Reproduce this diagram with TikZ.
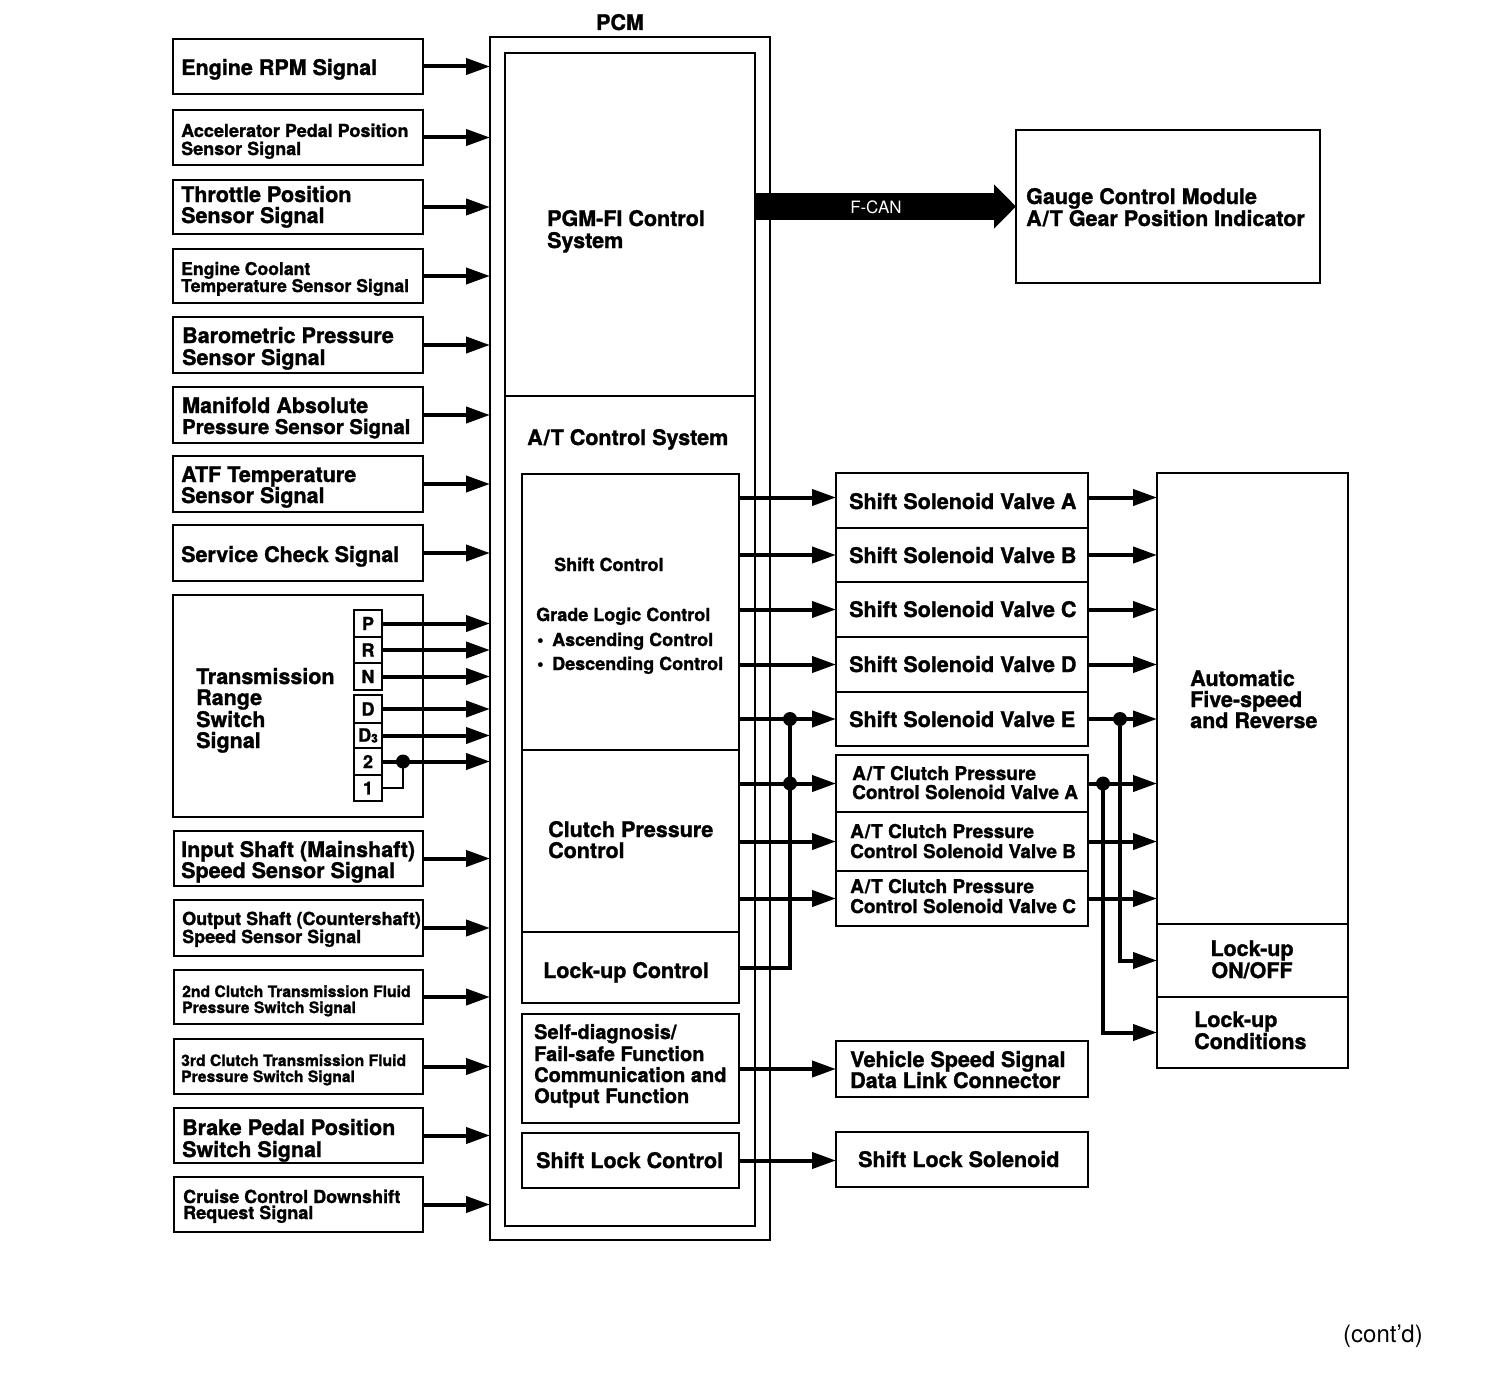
\documentclass[tikz,border=0pt]{standalone}
\usepackage{fontspec}
\setmainfont{TeX Gyre Heros}[BoldFeatures={FakeBold=1.3}]
\usetikzlibrary{arrows.meta}
\newcounter{tln}
\newcommand\FBig{\fontsize{21.5}{22}\selectfont\bfseries}
\newcommand\FMed{\fontsize{18}{18}\selectfont\bfseries}
\newcommand\FSml{\fontsize{15.7}{16}\selectfont\bfseries}
\newcommand\FClu{\fontsize{19}{19}\selectfont\bfseries}
\newcommand\FSd{\fontsize{20}{20}\selectfont\bfseries}
\newcommand\FLet{\fontsize{18}{18}\selectfont\bfseries}
\newcommand\AT{A\kern1pt/\kern1pt T}
\newcommand\putline[4]{\stepcounter{tln}\node[lbl,font=#1] (tl\arabic{tln}) at (#2,#3) {#4};}
\newcommand\putcline[4]{\stepcounter{tln}\node[clbl,font=#1] (tl\arabic{tln}) at (#2,#3) {#4};}
\newcommand\mybox[6][]{%
  \pgfmathsetmacro\bxw{#5-#3}\pgfmathsetmacro\bxh{#6-#4}%
  \pgfmathsetmacro\bxcx{(#3+#5)/2}\pgfmathsetmacro\bxcy{(#4+#6)/2}%
  \node[box,minimum width=\bxw pt,minimum height=\bxh pt,#1] (#2) at (\bxcx,\bxcy) {};}
\newcommand\letbox[6]{%
  \pgfmathsetmacro\bxw{#5-#3}\pgfmathsetmacro\bxh{#6-#4}%
  \pgfmathsetmacro\bxcx{(#3+#5)/2}\pgfmathsetmacro\bxcy{(#4+#6)/2}%
  \node[box,minimum width=\bxw pt,minimum height=\bxh pt,font=\FLet] (#1) at (\bxcx,\bxcy) {#2};}
\tikzset{
  box/.style={draw, line width=2pt, inner sep=0pt, outer sep=0pt},
  arr/.style={line width=4pt, -{Triangle[length=24pt,width=16pt]}},
  wire/.style={line width=4pt},
  thinwire/.style={line width=2.5pt},
  dot/.style={circle, fill, inner sep=0pt, minimum size=14pt},
  lbl/.style={anchor=base west, inner sep=0pt},
  clbl/.style={anchor=base, inner sep=0pt},
  fcan/.style={line width=27pt, -{Triangle[length=22pt,width=43pt]}},
}
\begin{document}
\begin{tikzpicture}[x=1pt,y=-1pt]
\useasboundingbox (0,0) rectangle (1504,1394);

% ---------- input boxes ----------
\mybox{in1}{173}{39}{423}{94}
\mybox{in2}{173}{110}{423}{165}
\mybox{in3}{173}{180}{423}{234}
\mybox{in4}{173}{249}{423}{303}
\mybox{in5}{173}{317}{423}{373}
\mybox{in6}{173}{387}{423}{443}
\mybox{in7}{173}{456}{423}{512}
\mybox{in8}{173}{525}{423}{581}
\mybox{in9}{173}{595}{423}{817}
\mybox{in10}{174}{831}{423}{886}
\mybox{in11}{174}{900}{423}{956}
\mybox{in12}{174}{970}{423}{1024}
\mybox{in13}{174}{1039}{423}{1094}
\mybox{in14}{174}{1108}{423}{1163}
\mybox{in15}{174}{1177}{423}{1232}

\letbox{kP}{P}{354}{610}{382}{637}
\letbox{kR}{R}{354}{637}{382}{663}
\letbox{kN}{N}{354}{663}{382}{690}
\letbox{kD}{D}{354}{695}{382}{723}
\letbox{kDt}{D\raisebox{-1pt}{\fontsize{12}{12}\selectfont 3}}{354}{723}{382}{748}
\letbox{kTwo}{2}{354}{748}{382}{775}
\letbox{kOne}{1}{354}{775}{382}{801}

% ---------- PCM ----------
\mybox{pcm}{490}{37}{770}{1240}
\mybox{pgm}{505}{53}{755}{396}
\mybox[line width=1.6pt]{atc}{505}{396}{755}{1226}
\mybox{shiftc}{522}{474}{739}{750}
\mybox[line width=1.6pt]{clutchc}{522}{750}{739}{932}
\mybox[line width=1.6pt]{lockc}{522}{932}{739}{1003}
\mybox{selfd}{522}{1014}{739}{1123}
\mybox{shiftlk}{522}{1133}{739}{1188}

% ---------- outputs ----------
\mybox{sA}{836}{473}{1088}{528}
\mybox{sB}{836}{528}{1088}{582}
\mybox{sC}{836}{582}{1088}{637}
\mybox{sD}{836}{637}{1088}{692}
\mybox{sE}{836}{692}{1088}{746}
\mybox{cA}{836}{755}{1088}{812}
\mybox{cB}{836}{812}{1088}{871}
\mybox{cC}{836}{871}{1088}{926}
\mybox{vss}{836}{1041}{1088}{1097}
\mybox{sls}{836}{1132}{1088}{1187}
\mybox{gauge}{1016}{130}{1320}{283}
\mybox{auto}{1157}{473}{1348}{924}
\mybox{lockon}{1157}{924}{1348}{997}
\mybox{lockcond}{1157}{997}{1348}{1068}

% ---------- input arrows ----------
\foreach \n in {in1,in2,in3,in4,in5,in6,in7,in8,in10,in11,in12,in13,in14,in15}
  \draw[arr] (\n.east) -- (\n.east -| pcm.west);
\foreach \n in {kP,kR,kN,kD,kDt,kTwo}
  \draw[arr] (\n.east) -- (\n.east -| pcm.west);
\path (kTwo.east) ++(21,0) coordinate (jtr);
\draw[thinwire] (kOne.east) -| (jtr);
\node[dot] (dtr) at (jtr) {};

% ---------- internal to outputs ----------
\draw[arr] ([yshift=3pt]sA.west -| shiftc.east) -- ([yshift=3pt]sA.west);
\foreach \n in {sB,sC,sD,sE}
  \draw[arr] (\n.west -| shiftc.east) -- (\n.west);
\foreach \n in {cA,cB,cC}
  \draw[arr] (\n.west -| clutchc.east) -- (\n.west);
\path (sE.west) ++(-46,0) coordinate (jl1);
\path (cA.west) ++(-46,0) coordinate (jl2);
\draw[wire] (lockc.east) -| (jl1);
\node[dot] (dl1) at (jl1) {};
\node[dot] (dl2) at (jl2) {};
\draw[arr] (selfd.east |- vss.west) -- (vss.west);
\draw[arr] (shiftlk.east) -- (shiftlk.east -| sls.west);

% ---------- outputs to transmission ----------
\draw[arr] ([yshift=3pt]sA.east) -- ([yshift=3pt]sA.east -| auto.west);
\foreach \n in {sB,sC,sD,sE,cA,cB,cC}
  \draw[arr] (\n.east) -- (\n.east -| auto.west);
\path (sE.east) ++(32,0) coordinate (jr1);
\path (cA.east) ++(15,0) coordinate (jr2);
\draw[arr] (jr1) |- (lockon.west);
\draw[arr] (jr2) |- (lockcond.west);
\node[dot] (dr1) at (jr1) {};
\node[dot] (dr2) at (jr2) {};

% ---------- F-CAN ----------
\path (pgm.east |- 0,206.5) coordinate (fc);
\draw[fcan] (fc) -- (fc -| gauge.west);
\node[clbl,font=\fontsize{17}{17}\selectfont,text=white] (fcanlbl) at (876,213) {F-CAN};

% ---------- texts ----------
\putline{\FBig}{181}{75}{Engine RPM Signal}
\putline{\FMed}{181}{137}{Accelerator Pedal Position}
\putline{\FMed}{181}{155}{Sensor Signal}
\putline{\FBig}{181}{202}{Throttle Position}
\putline{\FBig}{181}{223}{Sensor Signal}
\putline{\fontsize{17.6}{18}\selectfont\bfseries}{181}{275}{Engine Coolant}
\putline{\fontsize{17.6}{18}\selectfont\bfseries}{181}{292}{Temperature Sensor Signal}
\putline{\FBig}{182}{343}{Barometric Pressure}
\putline{\FBig}{182}{365}{Sensor Signal}
\putline{\FBig}{182}{413}{Manifold Absolute}
\putline{\fontsize{20.3}{21}\selectfont\bfseries}{182}{434}{Pressure Sensor Signal}
\putline{\FBig}{181}{482}{ATF Temperature}
\putline{\FBig}{181}{503}{Sensor Signal}
\putline{\FBig}{181}{562}{Service Check Signal}
\putline{\FBig}{196}{684}{Transmission}
\putline{\FBig}{196}{705}{Range}
\putline{\FBig}{196}{727}{Switch}
\putline{\FBig}{196}{748}{Signal}
\putline{\FBig}{181}{857}{Input Shaft (Mainshaft)}
\putline{\FBig}{181}{878}{Speed Sensor Signal}
\putline{\FMed}{182}{925}{Output Shaft (Countershaft)}
\putline{\FMed}{182}{943}{Speed Sensor Signal}
\putline{\FSml}{182}{997}{2nd Clutch Transmission Fluid}
\putline{\FSml}{182}{1013}{Pressure Switch Signal}
\putline{\FSml}{181}{1066}{3rd Clutch Transmission Fluid}
\putline{\FSml}{181}{1082}{Pressure Switch Signal}
\putline{\FBig}{182}{1135}{Brake Pedal Position}
\putline{\FBig}{182}{1157}{Switch Signal}
\putline{\FMed}{183}{1203}{Cruise Control Downshift}
\putline{\FMed}{183}{1219}{Request Signal}

\putcline{\FBig}{620}{30}{PCM}
\putline{\FBig}{547}{226}{PGM-FI Control}
\putline{\FBig}{547}{248}{System}
\putline{\FBig}{527}{445}{\AT\ Control System}
\putline{\FMed}{554}{571}{Shift Control}
\putline{\FMed}{536}{621}{Grade Logic Control}
\putline{\FMed}{537}{646}{\makebox[15pt][l]{\textbullet}Ascending Control}
\putline{\FMed}{537}{670}{\makebox[15pt][l]{\textbullet}Descending Control}
\putline{\FBig}{548}{837}{Clutch Pressure}
\putline{\FBig}{548}{858}{Control}
\putline{\FBig}{543}{978}{Lock-up Control}
\putline{\FSd}{534}{1039}{Self-diagnosis/}
\putline{\FSd}{534}{1061}{Fail-safe Function}
\putline{\FSd}{534}{1082}{Communication and}
\putline{\FSd}{534}{1103}{Output Function}
\putline{\FBig}{536}{1168}{Shift Lock Control}

\putline{\FBig}{849}{509}{Shift Solenoid Valve A}
\putline{\FBig}{849}{563}{Shift Solenoid Valve B}
\putline{\FBig}{849}{617}{Shift Solenoid Valve C}
\putline{\FBig}{849}{672}{Shift Solenoid Valve D}
\putline{\FBig}{849}{727}{Shift Solenoid Valve E}
\putline{\FClu}{852}{780}{\AT\ Clutch Pressure}
\putline{\FClu}{852}{799}{Control Solenoid Valve A}
\putline{\FClu}{850}{838}{\AT\ Clutch Pressure}
\putline{\FClu}{850}{858}{Control Solenoid Valve B}
\putline{\FClu}{850}{893}{\AT\ Clutch Pressure}
\putline{\FClu}{850}{913}{Control Solenoid Valve C}
\putline{\FBig}{850}{1067}{Vehicle Speed Signal}
\putline{\FBig}{850}{1088}{Data Link Connector}
\putline{\FBig}{858}{1167}{Shift Lock Solenoid}
\putline{\FBig}{1026}{204}{Gauge Control Module}
\putline{\FBig}{1026}{226}{\AT\ Gear Position Indicator}
\putline{\FBig}{1190}{686}{Automatic}
\putline{\FBig}{1190}{707}{Five-speed}
\putline{\FBig}{1190}{728}{and Reverse}
\putcline{\FBig}{1252}{956}{Lock-up}
\putcline{\FBig}{1252}{978}{ON/OFF}
\putline{\FBig}{1194}{1027}{Lock-up}
\putline{\FBig}{1194}{1049}{Conditions}
\putline{\fontsize{24}{24}\selectfont}{1343}{1342}{(cont’d)}
\end{tikzpicture}
\end{document}
